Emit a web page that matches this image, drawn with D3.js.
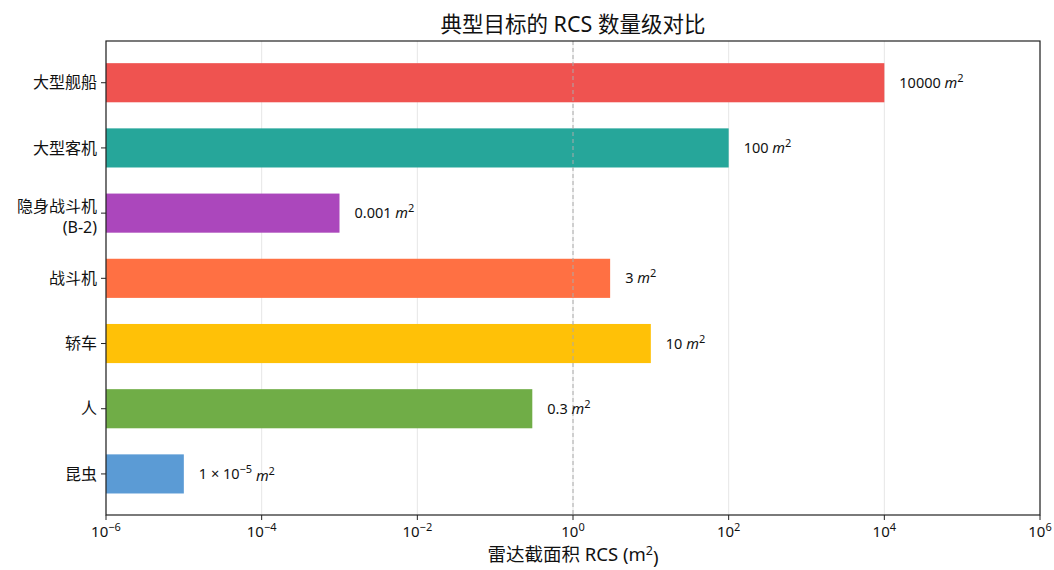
<!DOCTYPE html>
<html>
<head>
<meta charset="utf-8">
<script src="https://cdn.jsdelivr.net/npm/d3@7"></script>
<style>
  html, body { margin: 0; padding: 0; background: #fff; }
  svg { display: block; font-family: "Noto Sans", "Noto Sans CJK SC", sans-serif; }
</style>
</head>
<body>
<svg id="chart" width="1054" height="570"></svg>
<script>
// Targets, top to bottom
const categories = ["大型舰船", "大型客机", "隐身战斗机\n(B-2)", "战斗机", "轿车", "人", "昆虫"];
// RCS values in m²
const rcsValues = [10000, 100, 0.001, 3, 10, 0.3, 1e-5];
// Value annotations
const valueLabels = ["10000", "100", "0.001", "3", "10", "0.3", "1e-5"];
const barColors = ["#ef5350", "#26a69a", "#ab47bc", "#ff7043", "#ffc107", "#70ad47", "#5b9bd5"];
const tickExponents = [-6, -4, -2, 0, 2, 4, 6];

const svg = d3.select("#chart");
const margin = { left: 106, right: 1040, top: 41, bottom: 515 };

const x = d3.scaleLog().domain([1e-6, 1e6]).range([margin.left, margin.right]);
// category index 0 at top; bars of height 0.6 with small margins
const y = d3.scaleLinear().domain([-0.64, categories.length - 1 + 0.63]).range([margin.top, margin.bottom]);
const barH = 0.6;

// grid lines
svg.append("g").selectAll("line").data(tickExponents).join("line")
  .attr("x1", d => x(Math.pow(10, d))).attr("x2", d => x(Math.pow(10, d)))
  .attr("y1", margin.top).attr("y2", margin.bottom)
  .attr("stroke", "#e6e6e6").attr("stroke-width", 1);

// bars
svg.append("g").selectAll("rect").data(rcsValues).join("rect")
  .attr("x", x(1e-6))
  .attr("y", (d, i) => y(i - barH / 2))
  .attr("width", d => x(d) - x(1e-6))
  .attr("height", y(barH) - y(0))
  .attr("fill", (d, i) => barColors[i]);

// reference line at 1 m²
svg.append("line")
  .attr("x1", x(1)).attr("x2", x(1))
  .attr("y1", margin.top).attr("y2", margin.bottom)
  .attr("stroke", "#aaaaaa").attr("stroke-width", 1).attr("stroke-dasharray", "4,3");

// value annotations
const lab = svg.append("g").attr("font-size", 14.5).attr("fill", "#111");
rcsValues.forEach((v, i) => {
  const t = lab.append("text")
    .attr("x", x(v) + 15)
    .attr("y", y(i))
    .attr("dy", "0.35em");
  if (valueLabels[i] === "1e-5") {
    t.append("tspan").text("1 × 10");
    t.append("tspan").attr("dy", "-0.55em").attr("font-size", 11).text("−5");
    t.append("tspan").attr("dy", "0.55em").text(" ");
  } else {
    t.append("tspan").text(valueLabels[i] + " ");
  }
  t.append("tspan").attr("font-style", "italic").text("m");
  t.append("tspan").attr("dy", "-0.55em").attr("font-size", 11).text("2");
});

// axes frame
svg.append("rect")
  .attr("x", margin.left).attr("y", margin.top)
  .attr("width", margin.right - margin.left).attr("height", margin.bottom - margin.top)
  .attr("fill", "none").attr("stroke", "#222").attr("stroke-width", 1.2);

// x ticks
const xt = svg.append("g").attr("font-size", 15).attr("fill", "#111");
tickExponents.forEach(e => {
  const px = x(Math.pow(10, e));
  xt.append("line").attr("x1", px).attr("x2", px).attr("y1", margin.bottom).attr("y2", margin.bottom + 5)
    .attr("stroke", "#222");
  const t = xt.append("text").attr("x", px).attr("y", margin.bottom + 22).attr("text-anchor", "middle");
  t.append("tspan").text("10");
  t.append("tspan").attr("dy", "-0.55em").attr("font-size", 11).text(e < 0 ? "−" + (-e) : String(e));
});

// y ticks
const yt = svg.append("g").attr("font-size", 16).attr("fill", "#111");
categories.forEach((c, i) => {
  const py = y(i);
  yt.append("line").attr("x1", margin.left - 5).attr("x2", margin.left).attr("y1", py).attr("y2", py)
    .attr("stroke", "#222");
  const lines = c.split("\n");
  const t = yt.append("text").attr("x", margin.left - 9).attr("text-anchor", "end");
  lines.forEach((ln, k) => {
    t.append("tspan").attr("x", margin.left - 9)
      .attr("y", py + (lines.length > 1 ? (k === 0 ? -7 : 14) : 0))
      .attr("dy", "0.35em").text(ln);
  });
});

// title
svg.append("text").attr("x", (margin.left + margin.right) / 2).attr("y", 32)
  .attr("text-anchor", "middle").attr("font-size", 21.5).attr("fill", "#111")
  .text("典型目标的 RCS 数量级对比");

// x axis label
const xl = svg.append("text").attr("x", (margin.left + margin.right) / 2).attr("y", 561)
  .attr("text-anchor", "middle").attr("font-size", 18.5).attr("fill", "#111");
xl.append("tspan").text("雷达截面积 RCS (m");
xl.append("tspan").attr("dy", "-0.5em").attr("font-size", 12.5).text("2");
xl.append("tspan").attr("dy", "0.5em").text(")");
</script>
</body>
</html>
